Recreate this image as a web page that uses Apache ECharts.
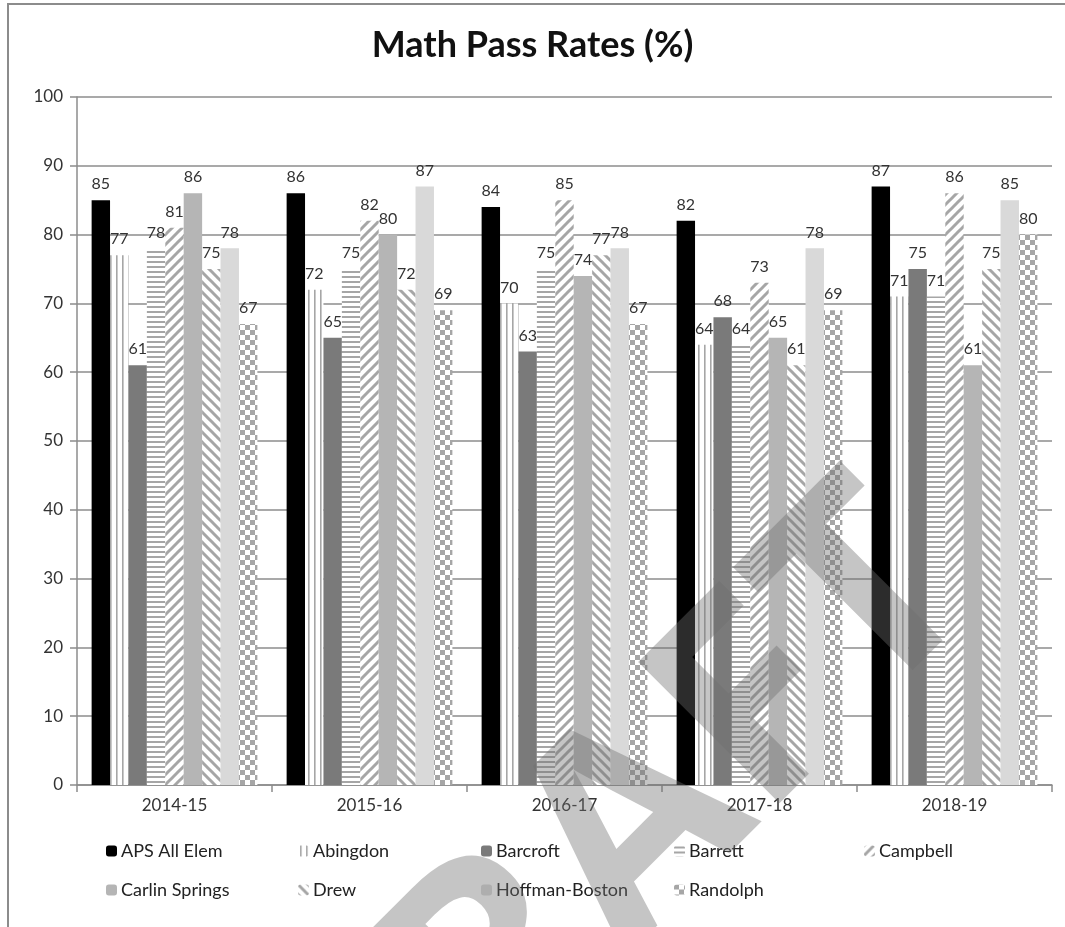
<!DOCTYPE html>
<html>
<head>
<meta charset="utf-8">
<title>Math Pass Rates (%)</title>
<script src="https://cdn.jsdelivr.net/npm/echarts@6/dist/echarts.min.js"></script>
<style>
  html, body { margin: 0; padding: 0; background: #fff; }
  #chart { width: 1065px; height: 927px; }
</style>
</head>
<body>
<div id="chart"></div>
<script>
// School years on the category axis
const years = ['2014-15', '2015-16', '2016-17', '2017-18', '2018-19'];

// Math pass rates (%) per school, one value per school year
const apsAllElem    = [85, 86, 84, 82, 87];
const abingdon      = [77, 72, 70, 64, 71];
const barcroft      = [61, 65, 63, 68, 75];
const barrett       = [78, 75, 75, 64, 71];
const campbell      = [81, 82, 85, 73, 86];
const carlinSprings = [86, 80, 74, 65, 61];
const drew          = [75, 72, 77, 61, 75];
const hoffmanBoston = [78, 87, 78, 78, 85];
const randolph      = [67, 69, 67, 69, 80];

// Value axis range
const yMin = 0, yMax = 100, yStep = 10;

// Small repeating canvas fills for the patterned bars
function pattern(w, h, draw) {
  const c = document.createElement('canvas');
  c.width = w; c.height = h;
  const g = c.getContext('2d');
  g.fillStyle = '#ffffff';
  g.fillRect(0, 0, w, h);
  draw(g, w, h);
  return { image: c, repeat: 'repeat' };
}
const ink = '#a6a6a6';
const verticalLines = pattern(6, 6, g => { g.fillStyle = ink; g.fillRect(2, 0, 1.6, 6); });
const horizontalLines = pattern(5, 5, g => { g.fillStyle = ink; g.fillRect(0, 1, 5, 2); });
function diagonal(up) {
  return pattern(10, 10, (g, w, h) => {
    g.strokeStyle = ink; g.lineWidth = 3; g.lineCap = 'square';
    const segs = up
      ? [[-2, 12, 12, -2], [-3, 3, 3, -3], [7, 13, 13, 7]]
      : [[-2, -2, 12, 12], [-3, 7, 3, 13], [7, -3, 13, 3]];
    segs.forEach(s => { g.beginPath(); g.moveTo(s[0], s[1]); g.lineTo(s[2], s[3]); g.stroke(); });
  });
}
const diagonalUp = diagonal(true);
const diagonalDown = diagonal(false);
const checker = pattern(10, 10, g => {
  g.fillStyle = ink;
  g.fillRect(0, 0, 5, 5);
  g.fillRect(5, 5, 5, 5);
});

const seriesDefs = [
  { name: 'APS All Elem',   data: apsAllElem,    color: '#000000' },
  { name: 'Abingdon',       data: abingdon,      color: verticalLines },
  { name: 'Barcroft',       data: barcroft,      color: '#7a7a7a' },
  { name: 'Barrett',        data: barrett,       color: horizontalLines },
  { name: 'Campbell',       data: campbell,      color: diagonalUp },
  { name: 'Carlin Springs', data: carlinSprings, color: '#b5b5b5' },
  { name: 'Drew',           data: drew,          color: diagonalDown },
  { name: 'Hoffman-Boston', data: hoffmanBoston, color: '#d9d9d9' },
  { name: 'Randolph',       data: randolph,      color: checker }
];

// Legend laid out in fixed columns, two rows
const legendSpots = [
  [106, 842], [298, 842], [481, 842], [674, 842], [864, 842],
  [106, 881], [298, 881], [481, 881], [674, 881]
];

const font = 'Lato, "Open Sans", sans-serif';

const chart = echarts.init(document.getElementById('chart'), null, { renderer: 'canvas' });
chart.setOption({
  animation: false,
  backgroundColor: '#ffffff',
  textStyle: { fontFamily: font },
  title: {
    text: 'Math Pass Rates (%)',
    left: 'center',
    top: 27,
    padding: [0, 0, 0, 18],
    textStyle: { fontFamily: font, fontSize: 36, fontWeight: 'bold', color: '#111' }
  },
  legend: seriesDefs.map((s, i) => ({
    data: [s.name],
    left: legendSpots[i][0],
    top: legendSpots[i][1],
    itemWidth: 11,
    itemHeight: 11,
    padding: 0,
    selectedMode: false,
    textStyle: { fontFamily: font, fontSize: 18, color: '#222', padding: [0, 0, 0, -1] }
  })),
  grid: { left: 77, right: 13, top: 97, bottom: 142, containLabel: false },
  xAxis: {
    type: 'category',
    data: years,
    axisLine: { lineStyle: { color: '#8c8c8c', width: 1.5 } },
    axisTick: { show: true, length: 7, lineStyle: { color: '#8c8c8c', width: 1.5 } },
    axisLabel: { fontSize: 17, color: '#333', margin: 12, fontFamily: font }
  },
  yAxis: {
    type: 'value',
    min: yMin,
    max: yMax,
    interval: yStep,
    axisLine: { show: true, lineStyle: { color: '#8c8c8c', width: 1.5 } },
    axisTick: { show: true, length: 7, lineStyle: { color: '#8c8c8c', width: 1.5 } },
    axisLabel: { fontSize: 17, color: '#333', margin: 14, fontFamily: font },
    splitLine: { lineStyle: { color: '#8c8c8c', width: 1.5 } }
  },
  series: seriesDefs.map(s => ({
    type: 'bar',
    name: s.name,
    data: s.data,
    barGap: '0%',
    barCategoryGap: '15%',
    itemStyle: { color: s.color },
    emphasis: { disabled: true },
    label: {
      show: true,
      position: 'top',
      distance: 8,
      fontSize: 16,
      color: '#333',
      fontFamily: font
    }
  })),
  graphic: [
    {
      type: 'rect',
      shape: { x: 8, y: 4, width: 1080, height: 960 },
      style: { fill: 'none', stroke: '#8c8c8c', lineWidth: 2 },
      silent: true,
      z: 100
    },
    {
      type: 'text',
      x: 610,
      y: 860,
      rotation: Math.PI / 4,
      silent: true,
      z: 200,
      style: {
        text: 'DRAFT',
        font: 'bold 280px "Open Sans", sans-serif',
        fill: 'rgba(110,110,110,0.4)',
        align: 'center',
        verticalAlign: 'middle'
      }
    }
  ]
});
</script>
</body>
</html>
